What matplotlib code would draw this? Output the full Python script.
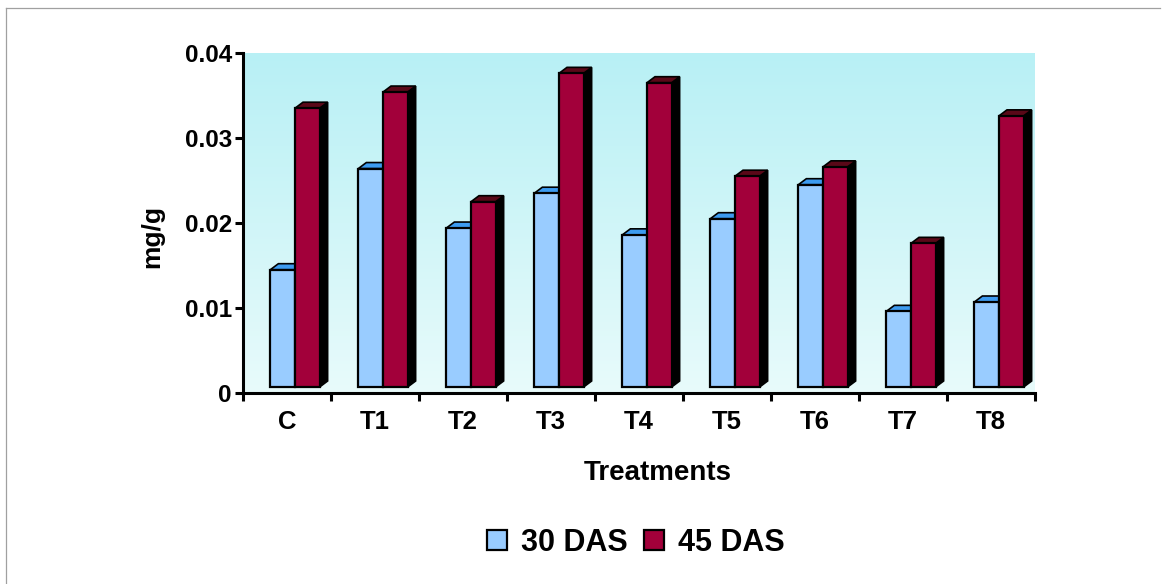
import numpy as np
import matplotlib.pyplot as plt
from matplotlib.patches import Polygon, Patch
from matplotlib.colors import LinearSegmentedColormap
from matplotlib.transforms import ScaledTranslation
from matplotlib.lines import Line2D

treatments = ['C', 'T1', 'T2', 'T3', 'T4', 'T5', 'T6', 'T7', 'T8']
das_30 = [0.0138, 0.0257, 0.0187, 0.0228, 0.0179, 0.0198, 0.0238, 0.0089, 0.0100]
das_45 = [0.0328, 0.0347, 0.0218, 0.0369, 0.0358, 0.0248, 0.0259, 0.0169, 0.0319]
series_names = ['30 DAS', '45 DAS']
yticks = [0, 0.01, 0.02, 0.03, 0.04]
ytick_labels = ['0', '0.01', '0.02', '0.03', '0.04']

# front, top, side colours for each series
face_cols = ['#99CCFF', '#A2003A']
top_cols = ['#3D9BF0', '#5A0818']
side_cols = ['#1A4F80', '#000000']

plt.rcParams['font.family'] = ['Liberation Sans', 'DejaVu Sans']
plt.rcParams['font.weight'] = 'bold'

W, H = 1166, 584
fig = plt.figure(figsize=(W / 100, H / 100), dpi=100)
fig.patch.set_facecolor('white')

ax = fig.add_axes([243 / W, 1 - 393 / H, (1035 - 243) / W, (393 - 53) / H])
ax.set_xlim(-0.5, len(treatments) - 0.5)
ax.set_ylim(0, 0.04)

# pale cyan gradient on the plot area
grad = np.linspace(0, 1, 256).reshape(-1, 1)
bg = LinearSegmentedColormap.from_list('bg', ['#E8FBFB', '#B8F0F5'])
ax.imshow(grad, cmap=bg, extent=[0, 1, 0, 1], transform=ax.transAxes,
          origin='lower', aspect='auto', zorder=0)

# pseudo-3D columns: front face pushed back into the floor, plus top/side faces
shift = ScaledTranslation(8 / 100, 6 / 100, fig.dpi_scale_trans)
front_tr = ax.transData + shift
p0 = ax.transData.transform((0, 0))
dx, dy = ax.transData.inverted().transform(p0 + np.array([8, 6]))

w = 0.28
x = np.arange(len(treatments))
for s, vals in enumerate([das_30, das_45]):
    left = x - w + s * w
    ax.bar(left, vals, width=w, align='edge', color=face_cols[s],
           edgecolor='black', linewidth=1.6, transform=front_tr,
           zorder=3 + 2 * s, clip_on=False)
    for xl, v in zip(left, vals):
        top = [(xl, v), (xl + w, v), (xl + w + dx, v + dy), (xl + dx, v + dy)]
        side = [(xl + w, 0), (xl + w + dx, dy), (xl + w + dx, v + dy), (xl + w, v)]
        ax.add_patch(Polygon(side, closed=True, facecolor=side_cols[s], edgecolor='black',
                             linewidth=1.2, transform=front_tr, zorder=2 + 2 * s, clip_on=False))
        ax.add_patch(Polygon(top, closed=True, facecolor=top_cols[s], edgecolor='black',
                             linewidth=1.2, transform=front_tr, zorder=2 + 2 * s, clip_on=False))

for sp in ['top', 'right']:
    ax.spines[sp].set_visible(False)
for sp in ['left', 'bottom']:
    ax.spines[sp].set_linewidth(2.2)
    ax.spines[sp].set_zorder(10)

ax.set_yticks(yticks)
ax.set_yticklabels(ytick_labels, fontsize=17.5, fontweight='bold')
ax.set_xticks(np.arange(-0.5, len(treatments)))
ax.set_xticklabels([])
ax.set_xticks(x, minor=True)
ax.set_xticklabels(treatments, minor=True, fontsize=18.5, fontweight='bold')
ax.tick_params(axis='both', which='major', direction='out', length=6, width=2.2, pad=2)
ax.tick_params(axis='x', which='minor', length=0, pad=12)

fig.text(658 / W, 1 - 473 / H, 'Treatments', ha='center', va='center',
         fontsize=20, fontweight='bold')
fig.text(152 / W, 1 - 236 / H, 'mg/g', ha='center', va='center', rotation=90,
         fontsize=19, fontweight='bold')

handles = [Patch(facecolor=face_cols[i], edgecolor='black', linewidth=1.6, label=series_names[i])
           for i in range(2)]
fig.legend(handles=handles, loc='center', bbox_to_anchor=(636 / W, 1 - 543 / H), ncol=2,
           frameon=False, prop={'size': 22, 'weight': 'bold'}, handlelength=0.65,
           handleheight=0.65, handletextpad=0.45, columnspacing=0.55)

# thin grey frame round the chart
fig.add_artist(Line2D([6 / W, 6 / W], [0, 1 - 8 / H], transform=fig.transFigure,
                      color='#A0A0A0', linewidth=0.9))
fig.add_artist(Line2D([6 / W, 1160 / W], [1 - 8 / H, 1 - 8 / H], transform=fig.transFigure,
                      color='#A0A0A0', linewidth=0.9))

fig.savefig('out.png', dpi=100)
